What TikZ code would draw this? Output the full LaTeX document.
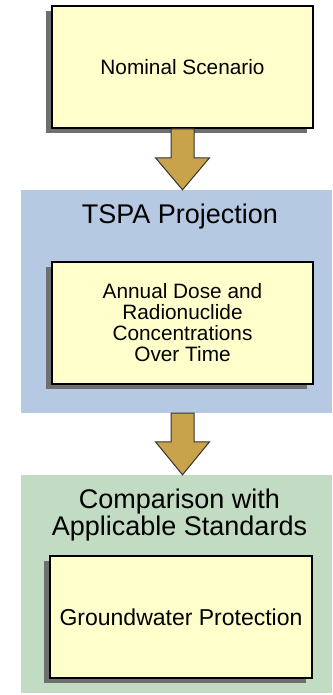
\documentclass[tikz,border=0pt]{standalone}
\usepackage{fontspec}
\setmainfont{Liberation Sans}
\usetikzlibrary{shadows,calc}
\definecolor{boxyellow}{RGB}{255,255,204}
\definecolor{panelblue}{RGB}{181,201,227}
\definecolor{panelgreen}{RGB}{194,219,195}
\definecolor{arrowgold}{RGB}{201,163,76}
\definecolor{shadowgray}{RGB}{110,112,112}
\tikzset{
  x=1pt, y=1pt,
  yellowbox/.style={draw=black, line width=1.6pt, fill=boxyellow,
    minimum width=261pt, minimum height=122pt, align=center, inner sep=0pt,
    drop shadow={shadow xshift=-6pt, shadow yshift=-5pt, fill=shadowgray, opacity=1}},
  panel/.style={fill=#1, draw=none, minimum width=311pt, inner sep=0pt},
  bigarrow/.style={fill=arrowgold, draw=black!80, line width=1pt, line join=miter},
  boxtext/.style={font=\fontsize{20.8}{21}\selectfont},
  titletext/.style={font=\fontsize{27}{24}\selectfont, align=center, inner sep=0pt}
}
\begin{document}
\begin{tikzpicture}
\useasboundingbox (0,0) rectangle (332,-695);
% panels
\node[panel=panelblue, minimum height=223pt] (p1) at (176.5,-301.5) {};
\node[panel=panelgreen, minimum height=218pt] (p2) at (176.5,-584) {};
% titles
\node[titletext] (t1) at (180,-217) {TSPA Projection};
\node[titletext] (t2) at (179.5,-515) {Comparison with\\Applicable Standards};
% boxes
\node[yellowbox, boxtext] (n1) at (182.5,-67) {Nominal Scenario};
\node[yellowbox, boxtext] (n2) at (182.5,-323) {Annual Dose and\\Radionuclide\\Concentrations\\Over Time};
\node[yellowbox, boxtext, minimum width=262pt, font=\fontsize{23}{24}\selectfont] (n3) at (181,-617) {Groundwater Protection};
% arrows
\coordinate (tip1) at (n1.south |- p1.north);
\draw[bigarrow] ($(n1.south)+(-11.5,0)$) -- ($(tip1)+(-11.5,32)$) -- ($(tip1)+(-27,32)$) -- (tip1)
  -- ($(tip1)+(27,32)$) -- ($(tip1)+(11.5,32)$) -- ($(n1.south)+(11.5,0)$) -- cycle;
\coordinate (top2) at (n2.south |- p1.south);
\coordinate (tip2) at (n2.south |- p2.north);
\draw[bigarrow] ($(top2)+(-11.5,0)$) -- ($(tip2)+(-11.5,33)$) -- ($(tip2)+(-27,33)$) -- (tip2)
  -- ($(tip2)+(27,33)$) -- ($(tip2)+(11.5,33)$) -- ($(top2)+(11.5,0)$) -- cycle;
\end{tikzpicture}
\end{document}
